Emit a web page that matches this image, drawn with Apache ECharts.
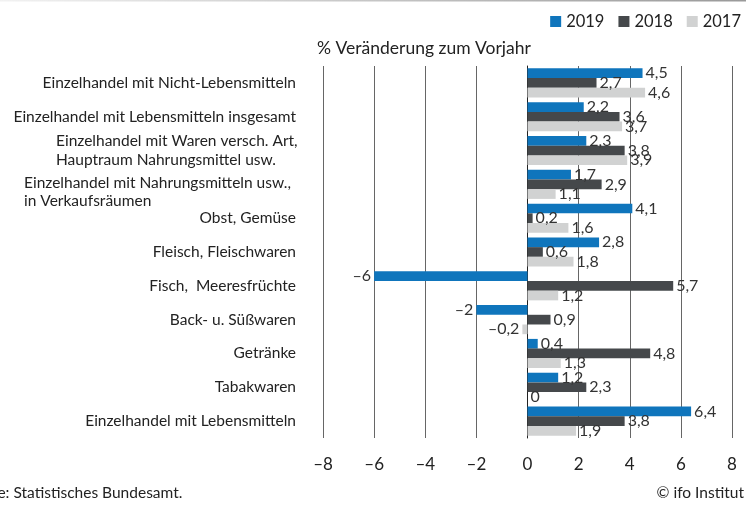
<!DOCTYPE html>
<html>
<head>
<meta charset="utf-8">
<script src="https://cdn.jsdelivr.net/npm/echarts@6/dist/echarts.min.js"></script>
<style>html,body{margin:0;padding:0;background:#fff}#c{width:746px;height:505px}</style>
</head>
<body>
<div id="c"></div>
<script>
var categories = [
  "Einzelhandel mit Nicht-Lebensmitteln",
  "Einzelhandel mit Lebensmitteln insgesamt",
  "Einzelhandel mit Waren versch. Art,\nHauptraum Nahrungsmittel usw.",
  "Einzelhandel mit Nahrungsmitteln usw.,\nin Verkaufsräumen",
  "Obst, Gemüse",
  "Fleisch, Fleischwaren",
  "Fisch,  Meeresfrüchte",
  "Back- u. Süßwaren",
  "Getränke",
  "Tabakwaren",
  "Einzelhandel mit Lebensmitteln"
];
var seriesNames = ["2019", "2018", "2017"];
var values2019 = [4.5, 2.2, 2.3, 1.7, 4.1, 2.8, -6, -2, 0.4, 1.2, 6.4];
var values2018 = [2.7, 3.6, 3.8, 2.9, 0.2, 0.6, 5.7, 0.9, 4.8, 2.3, 3.8];
var values2017 = [4.6, 3.7, 3.9, 1.1, 1.6, 1.8, 1.2, -0.2, 1.3, 0, 1.9];
var xTicks = [-8, -6, -4, -2, 0, 2, 4, 6, 8];
var colors = ["#0F75BC", "#45484B", "#D1D2D2"];

var FONT = "Lato";
var CAT_FS = 15.5;
function fmt(v) { return String(v).replace(".", ",").replace("-", "\u2013"); }

function mkSeries(name, vals, color) {
  return {
    name: name, type: "bar", barWidth: 9.7, barGap: "0%",
    itemStyle: { color: color },
    label: { show: true, position: "right", distance: 3, color: "#333", fontFamily: FONT, fontSize: 16,
      formatter: function (p) { return fmt(p.value); } },
    data: vals.map(function (v) { return v < 0 ? { value: v, label: { position: "left" } } : v; })
  };
}

function richLine(w, lh) {
  return { width: w, align: "left", fontFamily: FONT, fontSize: CAT_FS, color: "#222", lineHeight: lh };
}

var chart = echarts.init(document.getElementById("c"));
chart.setOption({
  animation: false,
  grid: { left: 323, right: 14, top: 66, bottom: 67 },
  legend: {
    data: seriesNames, right: 0, top: 8, icon: "rect", itemWidth: 11, itemHeight: 11, itemGap: 14,
    textStyle: { fontFamily: FONT, fontSize: 16.5, color: "#222" }
  },
  title: { text: "% Veränderung zum Vorjahr", left: 312, top: 34,
    textStyle: { fontFamily: FONT, fontSize: 17.5, fontWeight: "normal", color: "#222" } },
  xAxis: {
    type: "value", min: xTicks[0], max: xTicks[xTicks.length - 1], interval: 2,
    axisLine: { show: false }, axisTick: { show: false },
    splitLine: { show: true, lineStyle: { color: "#666", width: 1 } },
    axisLabel: { fontFamily: FONT, fontSize: 17, color: "#222", margin: 18, formatter: fmt }
  },
  yAxis: {
    type: "category", data: categories, inverse: true,
    axisLine: { show: true, lineStyle: { color: "#222" } }, axisTick: { show: false },
    axisLabel: {
      fontFamily: FONT, fontSize: CAT_FS, color: "#222", margin: 27, lineHeight: 19,
      formatter: function (v) {
        if (v.indexOf("\n") < 0) return v;
        var parts = v.split("\n");
        if (v.indexOf("Waren") >= 0) return "{a|" + parts[0] + "}\n{a|" + parts[1] + "}";
        return "{e| }\n{b|" + parts[0] + "}\n{b|" + parts[1] + "}";
      },
      rich: {
        a: richLine(240, 19),
        b: richLine(272, 18),
        e: { fontSize: 6, lineHeight: 15, height: 15 }
      }
    }
  },
  graphic: [
    { type: "line", shape: { x1: 0, y1: 0.5, x2: 746, y2: 0.5 },
      style: { lineWidth: 2, stroke: new echarts.graphic.LinearGradient(0, 0, 1, 0, [{ offset: 0, color: "#f2f2f2" }, { offset: 1, color: "#999" }]) } },
    { type: "text", left: -39, top: 485, style: { text: "Quelle: Statistisches Bundesamt.", fontFamily: FONT, fontSize: CAT_FS, fill: "#222" } },
    { type: "text", right: 2, top: 485, style: { text: "© ifo Institut", fontFamily: FONT, fontSize: CAT_FS, fill: "#222" } }
  ],
  series: [
    mkSeries(seriesNames[0], values2019, colors[0]),
    mkSeries(seriesNames[1], values2018, colors[1]),
    mkSeries(seriesNames[2], values2017, colors[2])
  ]
});
</script>
</body>
</html>
